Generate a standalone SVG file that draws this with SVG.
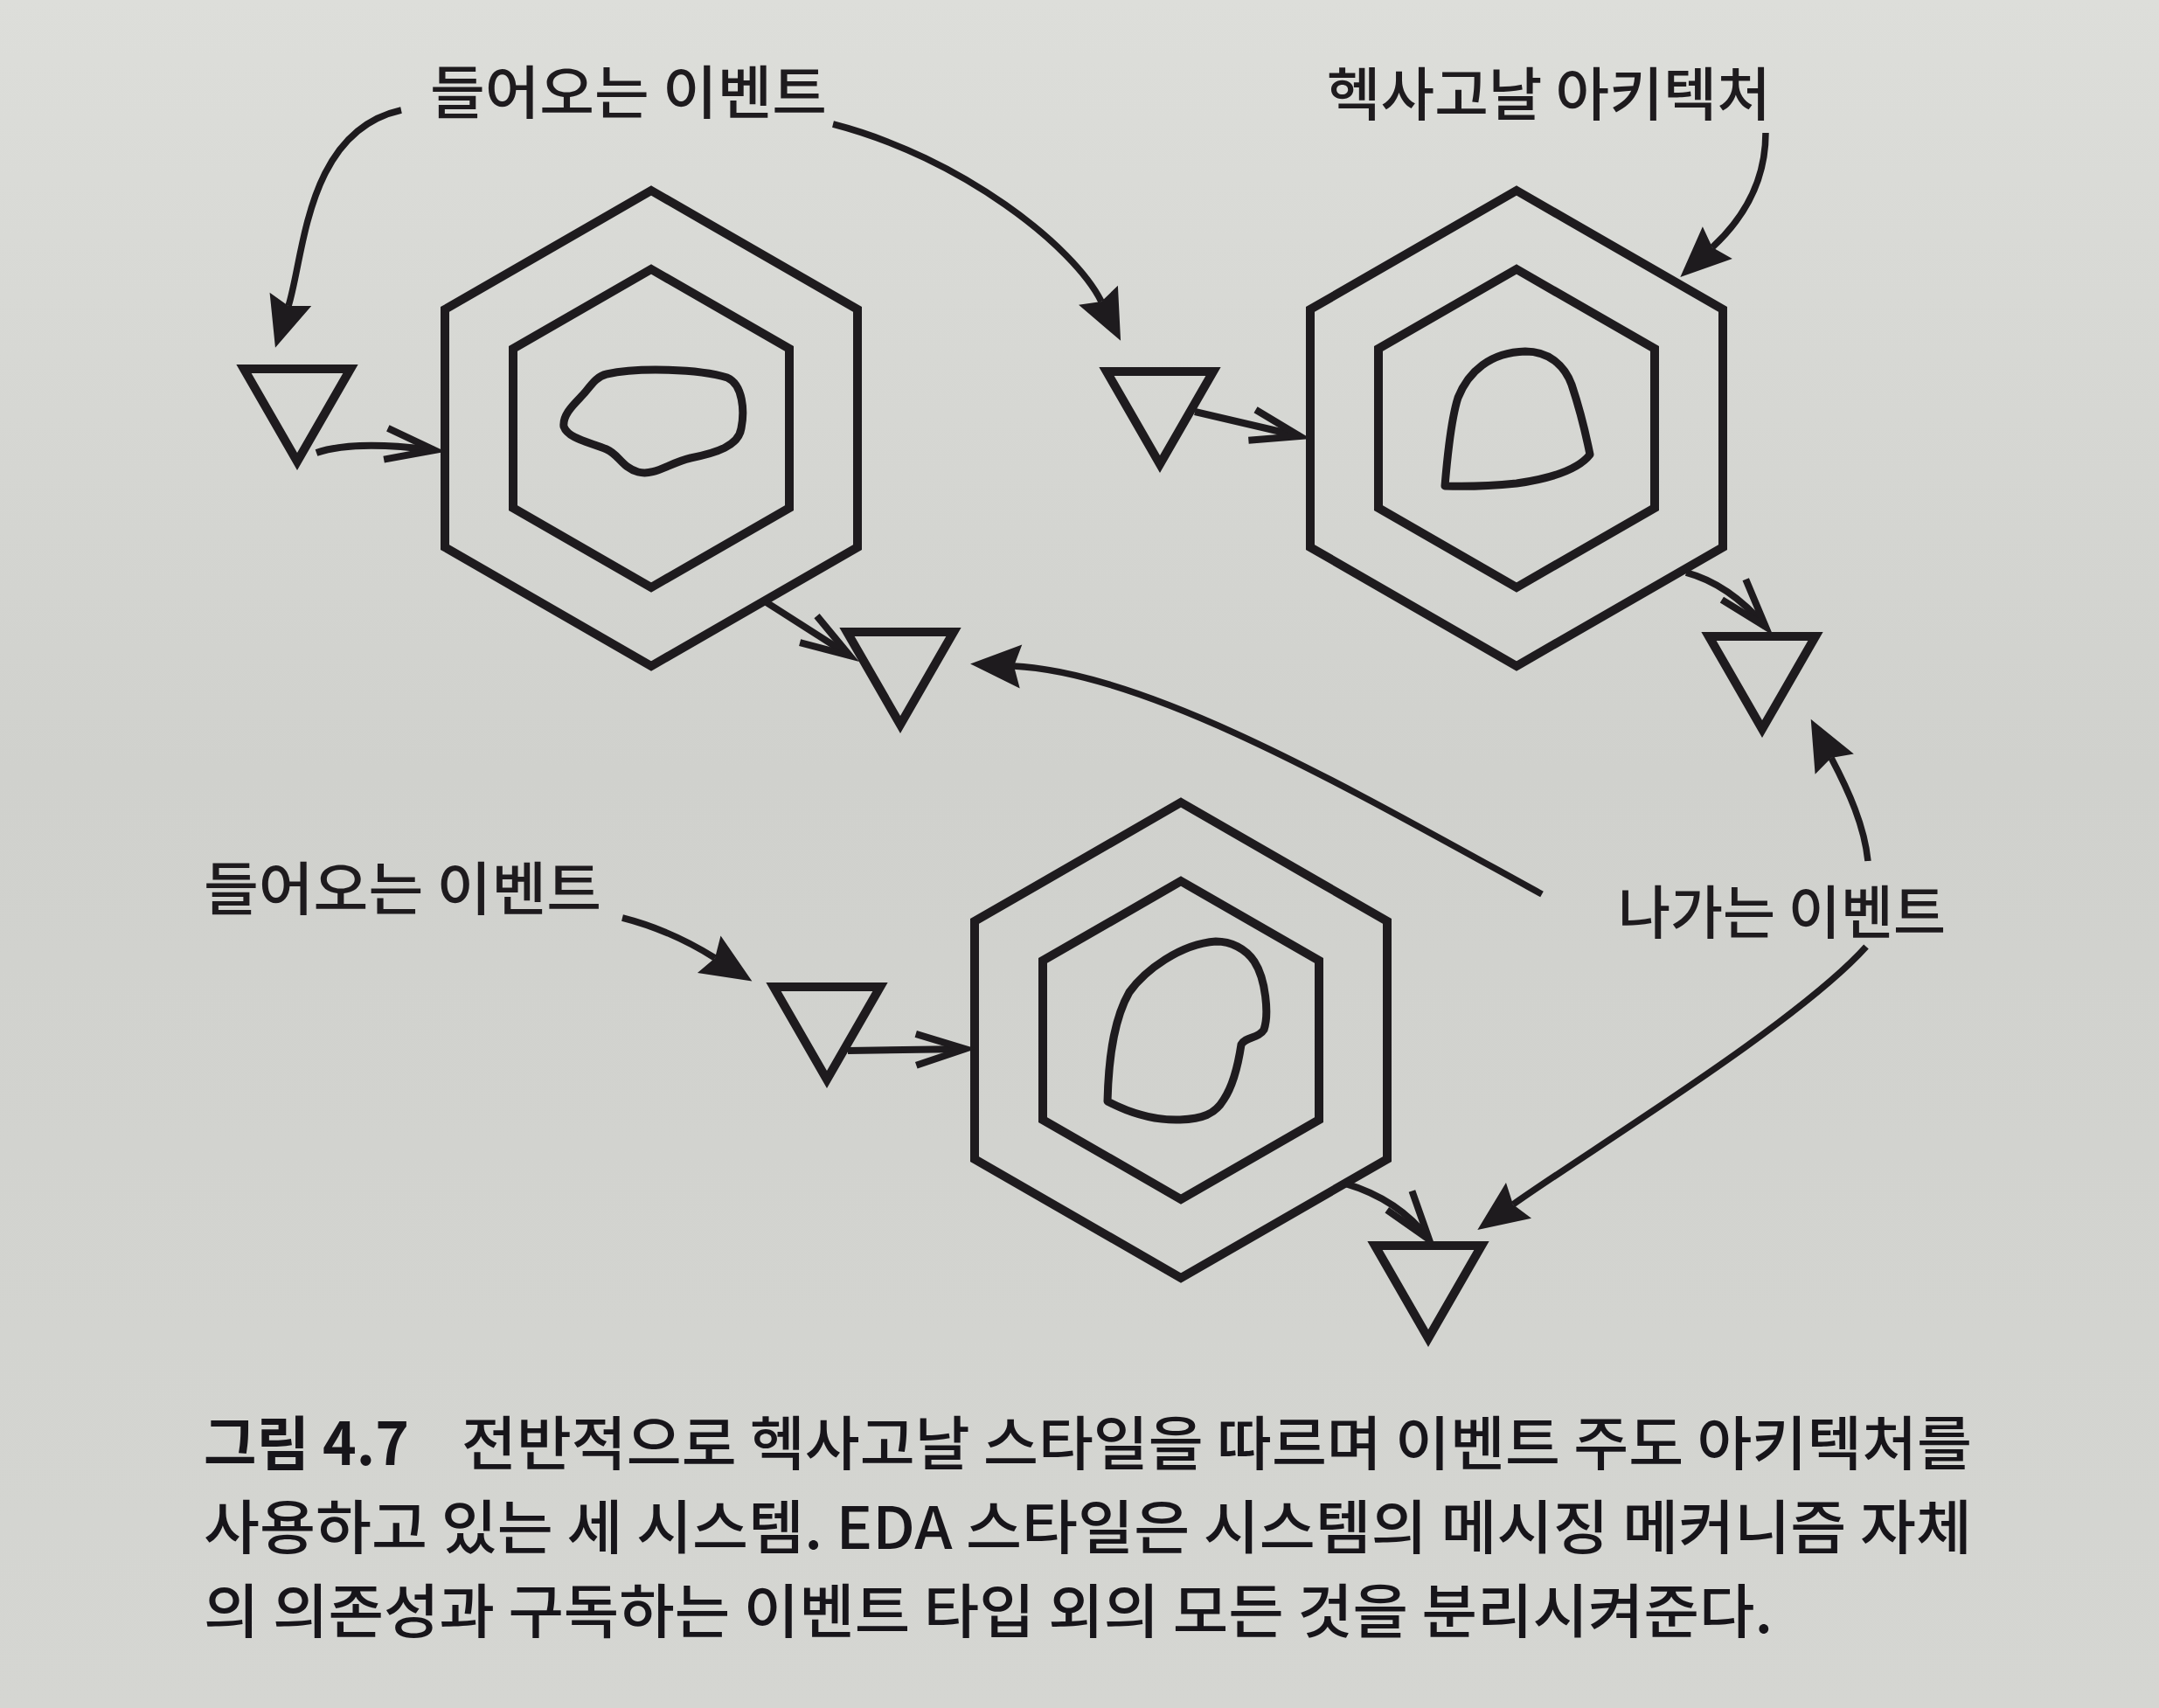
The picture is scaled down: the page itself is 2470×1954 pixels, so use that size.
<svg xmlns="http://www.w3.org/2000/svg" xmlns:xlink="http://www.w3.org/1999/xlink" width="2470" height="1954" viewBox="0 0 2470 1954">
  <defs>
    <linearGradient id="paper" x1="0" y1="0" x2="0" y2="1">
      <stop offset="0" stop-color="#dddeda"/>
      <stop offset="0.45" stop-color="#d0d1cd"/>
      <stop offset="1" stop-color="#d5d6d2"/>
    </linearGradient>
    <style>
      .hx { fill: none; stroke: #1e1b1e; stroke-width: 10; stroke-linejoin: miter; }
      .tri { fill: none; stroke: #1e1b1e; stroke-width: 10; stroke-linejoin: miter; }
      .blob { fill: none; stroke: #1e1b1e; stroke-width: 9; stroke-linejoin: round; }
      .arr { fill: none; stroke: #1e1b1e; stroke-width: 7.5; stroke-linecap: butt; }
      .arr-o { fill: none; stroke: #1e1b1e; stroke-width: 8; stroke-linecap: butt; }
      .lbl { font-family: 'Noto Sans CJK KR', 'Noto Sans', sans-serif; font-size: 66px; font-weight: 500; fill: #1e1b1e; }
      .cap { font-family: 'Noto Sans CJK KR', 'Noto Sans', sans-serif; font-size: 67px; font-weight: 500; fill: #17151a; }
      .capb { font-weight: 700; }
    </style>
    <g id="hex">
      <polygon class="hx" points="0,-272 236,-136 236,136 0,272 -236,136 -236,-136"/>
      <polygon class="hx" points="0,-182 158,-91 158,91 0,182 -158,91 -158,-91"/>
    </g>
    <path id="tri" class="tri" d="M-61,0 H61 L0,106 Z"/>
    <marker id="fh" markerUnits="userSpaceOnUse" viewBox="-10 -30 64 60" markerWidth="64" markerHeight="60" refX="0" refY="0" orient="auto" overflow="visible">
      <path d="M50,0 L-8,-25 L0,0 L-8,25 Z" fill="#1e1b1e"/>
    </marker>
    <marker id="oh" markerUnits="userSpaceOnUse" viewBox="-70 -30 90 60" markerWidth="90" markerHeight="60" refX="0" refY="0" orient="auto" overflow="visible">
      <path d="M-56,-18 L0,0 L-56,18" fill="none" stroke="#1e1b1e" stroke-width="8" stroke-linejoin="miter"/>
    </marker>
  </defs>

  <rect x="0" y="0" width="2470" height="1954" fill="url(#paper)"/>

  <!-- Hexagon systems -->
  <g id="hex1">
    <use href="#hex" x="745" y="490"/>
    <path class="blob" d="M694,428 C730,420 800,422 832,432 C850,440 852,470 848,490 C845,510 820,518 790,524 C765,530 748,545 730,540 C712,535 708,520 694,514 C675,506 650,502 645,488 C643,472 662,458 670,448 C678,438 684,430 694,428 Z"/>
  </g>
  <g id="hex2">
    <use href="#hex" x="1735" y="490"/>
    <path class="blob" d="M1653,556 C1656,520 1660,480 1668,455 C1680,425 1705,403 1745,402 C1772,402 1790,418 1798,440 C1808,470 1815,500 1819,520 C1805,538 1770,548 1735,553 C1705,556 1680,557 1653,556 Z"/>
  </g>
  <g id="hex3">
    <use href="#hex" x="1351" y="1190"/>
    <path class="blob" d="M1391,1077 C1350,1080 1310,1110 1292,1135 C1272,1170 1268,1220 1267,1260 C1290,1272 1320,1282 1350,1281 C1375,1280 1390,1275 1400,1258 C1412,1240 1417,1215 1420,1195 C1425,1186 1440,1188 1446,1178 C1452,1160 1448,1120 1435,1100 C1425,1085 1408,1077 1391,1077 Z"/>
  </g>

  <!-- Event triangles -->
  <g id="tri-in1"><use href="#tri" x="340" y="422"/></g>
  <g id="tri-in2"><use href="#tri" x="1327" y="425"/></g>
  <g id="tri-out2"><use href="#tri" x="2016" y="728"/></g>
  <g id="tri-mid"><use href="#tri" x="1030" y="723"/></g>
  <g id="tri-in3"><use href="#tri" x="946" y="1129"/></g>
  <g id="tri-out3"><use href="#tri" x="1634" y="1425"/></g>

  <!-- Labels -->
  <g id="label-incoming-top">
    <text class="lbl" x="492" y="130" textLength="454" lengthAdjust="spacingAndGlyphs">들어오는 이벤트</text>
  </g>
  <g id="label-hexagonal">
    <text class="lbl" x="1518" y="132" textLength="508" lengthAdjust="spacingAndGlyphs">헥사고날 아키텍처</text>
  </g>
  <g id="label-outgoing">
    <text class="lbl" x="1851" y="1068" textLength="375" lengthAdjust="spacingAndGlyphs">나가는 이벤트</text>
  </g>
  <g id="label-incoming-bottom">
    <text class="lbl" x="233" y="1041" textLength="455" lengthAdjust="spacingAndGlyphs">들어오는 이벤트</text>
  </g>

  <!-- Connectors -->
  <g id="connectors">
    <path class="arr" marker-end="url(#fh)" d="M459,126 C350,150 348,293 330,350"/>
    <path class="arr" marker-end="url(#fh)" d="M953,142 C1100,180 1229,282 1260,345"/>
    <path class="arr" marker-end="url(#fh)" d="M2020,152 C2020,200 2000,245 1959,283"/>
    <path class="arr-o" marker-end="url(#oh)" d="M362,518 Q405,503 497,515"/>
    <path class="arr-o" marker-end="url(#oh)" d="M1367,471 L1487,499"/>
    <path class="arr-o" marker-end="url(#oh)" d="M875,688 L972,750"/>
    <path class="arr-o" marker-end="url(#oh)" d="M1929,655 Q1978,668 2020,717"/>
    <path class="arr" marker-end="url(#fh)" d="M1764,1023 C1545,903 1316,770 1160,762"/>
    <path class="arr" marker-end="url(#fh)" d="M2137,985 C2133,945 2115,905 2095,867"/>
    <path class="arr" marker-end="url(#fh)" d="M2135,1083 C2055,1172 1815,1318 1731,1378"/>
    <path class="arr" marker-end="url(#fh)" d="M712,1050 Q767,1064 818,1096"/>
    <path class="arr-o" marker-end="url(#oh)" d="M970,1202 L1104,1200"/>
    <path class="arr-o" marker-end="url(#oh)" d="M1539,1354 Q1600,1372 1635,1418"/>
  </g>

  <!-- Caption -->
  <g id="caption">
    <text class="cap capb" x="233" y="1676" textLength="235" lengthAdjust="spacingAndGlyphs">그림 4.7</text>
    <text class="cap" x="528" y="1676" textLength="1728" lengthAdjust="spacingAndGlyphs">전반적으로 헥사고날 스타일을 따르며 이벤트 주도 아키텍처를</text>
    <text class="cap" x="233" y="1772" textLength="2023" lengthAdjust="spacingAndGlyphs">사용하고 있는 세 시스템. EDA 스타일은 시스템의 메시징 메커니즘 자체</text>
    <text class="cap" x="233" y="1868" textLength="1795" lengthAdjust="spacingAndGlyphs">의 의존성과 구독하는 이벤트 타입 외의 모든 것을 분리시켜준다.</text>
  </g>
</svg>
